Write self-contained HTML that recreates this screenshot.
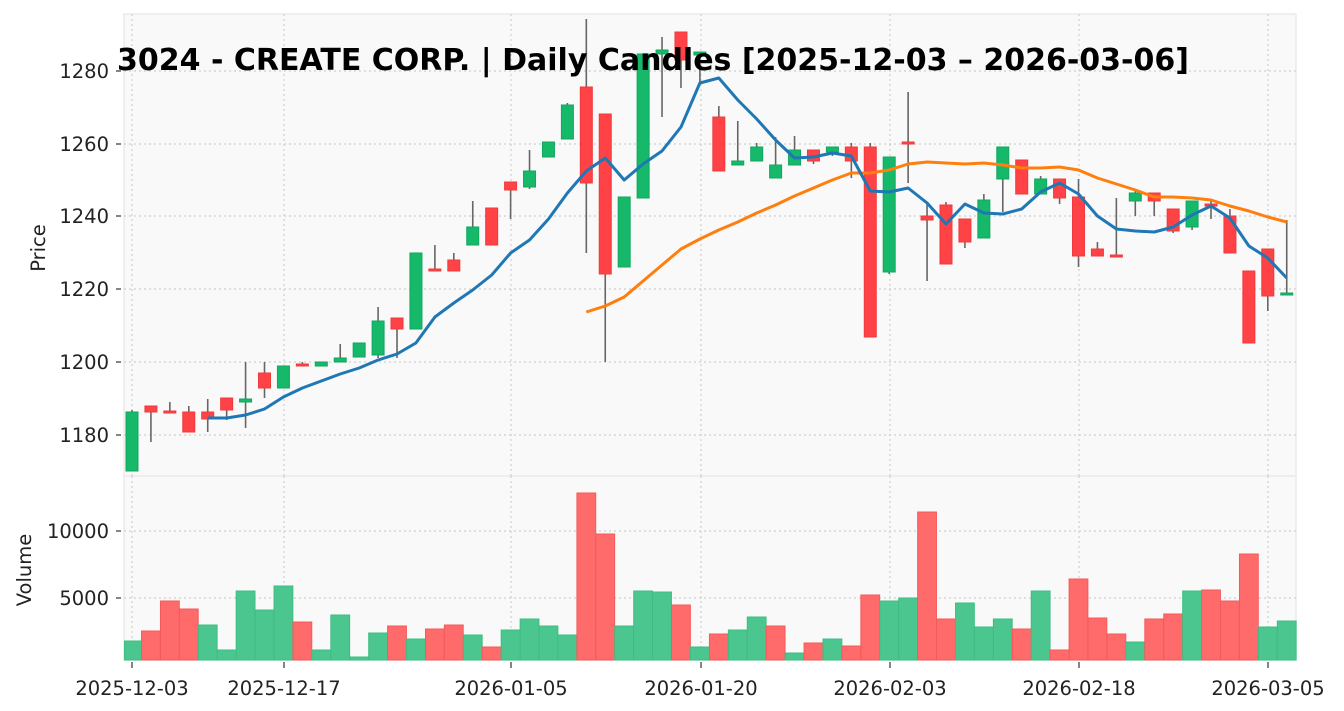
<!DOCTYPE html>
<html><head><meta charset="utf-8"><style>
html,body{margin:0;padding:0;background:#fff;width:1344px;height:711px;overflow:hidden}
svg text{font-family:"DejaVu Sans","Liberation Sans",sans-serif;fill:#222}
</style></head><body>
<svg id="s" width="1344" height="711" viewBox="0 0 1344 711" xmlns="http://www.w3.org/2000/svg">
<rect x="124" y="14" width="1172" height="462" fill="#f9f9f9" stroke="#ebebeb" stroke-width="1.5"/>
<rect x="124" y="476" width="1172" height="184" fill="#f9f9f9" stroke="#ebebeb" stroke-width="1.5"/>
<g id="grid" stroke="#cfcfcf" stroke-width="1.2" stroke-dasharray="2,3"></g>
<g id="vol"></g>
<g id="cand"></g>
<g id="lines" fill="none" stroke-width="3" stroke-linejoin="round"></g>
<g font-size="19.5" text-anchor="end">
<text x="109" y="78">1280</text><text x="109" y="151">1260</text><text x="109" y="223">1240</text>
<text x="109" y="296">1220</text><text x="109" y="369">1200</text><text x="109" y="442">1180</text>
<text x="109" y="538">10000</text><text x="109" y="605">5000</text>
</g>
<g stroke="#333" stroke-width="1.2">
<line x1="116" y1="71" x2="121" y2="71"/><line x1="116" y1="144" x2="121" y2="144"/><line x1="116" y1="216" x2="121" y2="216"/>
<line x1="116" y1="289" x2="121" y2="289"/><line x1="116" y1="362" x2="121" y2="362"/><line x1="116" y1="435" x2="121" y2="435"/>
<line x1="116" y1="531" x2="121" y2="531"/><line x1="116" y1="598" x2="121" y2="598"/>
<line x1="132" y1="662" x2="132" y2="668"/><line x1="284" y1="662" x2="284" y2="668"/><line x1="511" y1="662" x2="511" y2="668"/>
<line x1="701" y1="662" x2="701" y2="668"/><line x1="890" y1="662" x2="890" y2="668"/><line x1="1079" y1="662" x2="1079" y2="668"/><line x1="1268" y1="662" x2="1268" y2="668"/>
</g>
<g font-size="19.5" text-anchor="middle">
<text x="132" y="695">2025-12-03</text><text x="284" y="695">2025-12-17</text><text x="511" y="695">2026-01-05</text>
<text x="701" y="695">2026-01-20</text><text x="890" y="695">2026-02-03</text><text x="1079" y="695">2026-02-18</text><text x="1268" y="695">2026-03-05</text>
</g>
<text x="45" y="248" font-size="19.5" text-anchor="middle" transform="rotate(-90 45 248)">Price</text>
<text x="31" y="570" font-size="19.5" text-anchor="middle" transform="rotate(-90 31 570)">Volume</text>
<text x="653" y="70" font-size="30" font-weight="bold" text-anchor="middle" style="fill:#000">3024 - CREATE CORP. | Daily Candles [2025-12-03 – 2026-03-06]</text>
</svg>
<script>
var NS="http://www.w3.org/2000/svg";
function el(p,t,a){var e=document.createElementNS(NS,t);for(var k in a)e.setAttribute(k,a[k]);document.getElementById(p).appendChild(e);return e;}
[71,144,216,289,362,435].forEach(function(y){el("grid","line",{x1:124,x2:1296,y1:y,y2:y});});
[531,598].forEach(function(y){el("grid","line",{x1:124,x2:1296,y1:y,y2:y});});
[132,284,511,701,890,1079,1268].forEach(function(x){el("grid","line",{x1:x,x2:x,y1:14,y2:476});el("grid","line",{x1:x,x2:x,y1:476,y2:660});});
function X(i){return 132+18.93*i;}
var C=[["g",412,471,410,471],["r",406,412,406,442],["r",411,413,402,413],["r",412,432,406,432],["r",412,419,399,432],
["r",398,410,398,420],["g",399,402,362,428],["r",373,388,362,398],["g",366,388,366,388],["r",364,366,362,366],
["g",362,366,362,366],["g",358,362,344,362],["g",343,357,343,357],["g",321,355,307,358],["r",318,329,318,358],
["g",253,329,253,329],["r",269,271,245,271],["r",260,271,253,271],["g",227,245,201,245],["r",208,245,208,245],
["r",182,190,182,219],["g",171,187,150,189],["g",142,157,142,157],["g",105,139,103,139],["r",87,183,19,253],
["r",114,274,114,362],["g",197,267,197,267],["g",54,198,54,198],["g",50,54,37,117],["r",32,60,32,88],
["g",52,55,52,82],["r",117,171,106,171],["g",161,165,121,165],["g",147,161,143,161],["g",165,178,137,178],
["g",150,165,136,165],["r",150,161,150,164],["g",147,152,147,156],["r",147,161,143,178],["r",147,337,143,337],
["g",157,272,157,274],["r",142,144,92,183],["r",216,220,202,281],["r",205,264,202,264],["r",219,242,219,248],
["g",200,238,194,238],["g",147,179,147,212],["r",160,194,160,194],["g",179,194,176,194],["r",179,198,179,204],
["r",197,256,179,267],["r",249,256,242,256],["r",255,257,198,257],["g",193,201,190,216],["r",193,201,193,216],
["r",209,231,209,233],["g",201,227,201,230],["r",204,206,199,219],["r",216,253,209,253],["r",271,343,271,343],
["r",249,296,249,311],["g",293,295,220,295]];
C.forEach(function(c,i){var x=X(i);
el("cand","line",{x1:x,x2:x,y1:c[3],y2:c[4],stroke:"#666","stroke-width":1.6});
var col=c[0]=="g"?"#16b86a":"#ff4245";var ed=c[0]=="g"?"#10a85f":"#f03a3d";
el("cand","rect",{x:x-6,y:c[1],width:12,height:Math.max(2,c[2]-c[1]),fill:col,stroke:ed,"stroke-width":1});});
var V=["g",641,"r",631,"r",601,"r",609,"g",625,"g",650,"g",591,"g",610,"g",586,"r",622,"g",650,"g",615,"g",657,"g",633,"r",626,"g",639,"r",629,"r",625,"g",635,"r",647,"g",630,"g",619,"g",626,"g",635,"r",493,"r",534,"g",626,"g",591,"g",592,"r",605,"g",647,"r",634,"g",630,"g",617,"r",626,"g",653,"r",643,"g",639,"r",646,"r",595,"g",601,"g",598,"r",512,"r",619,"g",603,"g",627,"g",619,"r",629,"g",591,"r",650,"r",579,"r",618,"r",634,"g",642,"r",619,"r",614,"g",591,"r",590,"r",601,"r",554,"g",627,"g",621];
for(var i=0;i<V.length/2;i++){var g=V[2*i]=="g";var x=Math.max(124.5,X(i)-9.4);var w=X(i)+9.4-x;
el("vol","rect",{x:x,y:V[2*i+1],width:w,height:660-V[2*i+1],fill:g?"#4cc68f":"#ff6b6b",stroke:g?"#3dbd83":"#f55a5a","stroke-width":1});}
var B=[418,418,415,409,397,388,381,374,368,360,354,343,317,303,290,275,253,240,219,193,171,158,180,164,151,127,83,78,100,119,140,158,157,153,156,191,192,188,203,224,204,213,214,209,192,183,194,216,229,231,232,227,215,206,218,246,258,278];
var O=[312,306,297,281,265,249,239,230,222,213,205,196,188,180,173,173,170,164,162,163,164,163,165,168,168,167,170,178,184,190,197,197,198,200,206,211,217,222];
function pts(a,s){return a.map(function(y,k){return X(s+k).toFixed(1)+","+y;}).join(" ");}
el("lines","polyline",{points:pts(O,24),stroke:"#ff7f0e"});
el("lines","polyline",{points:pts(B,4),stroke:"#1f77b4"});
</script>
</body></html>
